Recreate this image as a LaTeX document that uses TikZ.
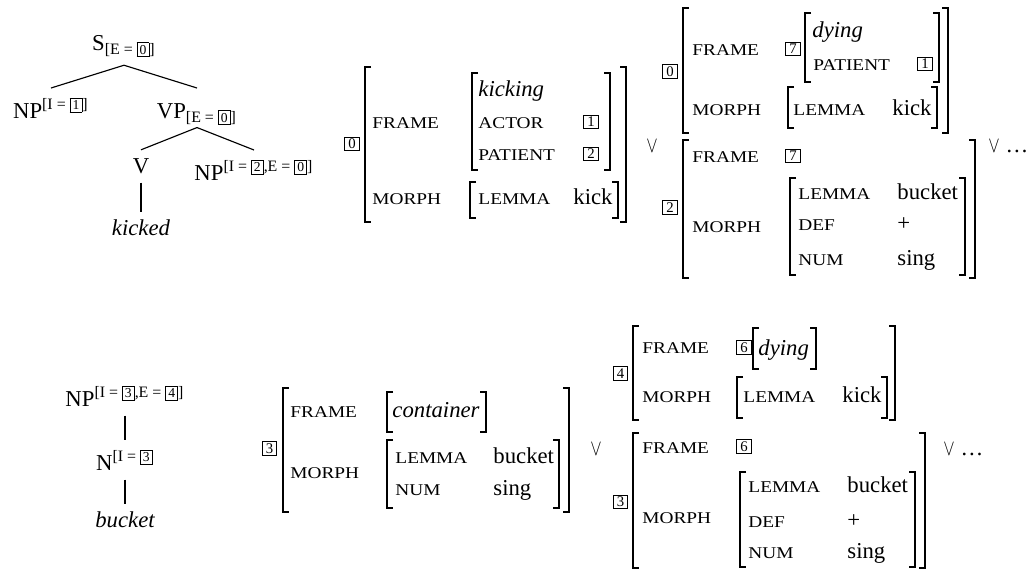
\documentclass[tikz,border=0pt]{standalone}
\usepackage{fontspec}
\setmainfont{Liberation Serif}

\newcommand{\bx}[1]{{\setlength{\fboxsep}{0.9pt}\setlength{\fboxrule}{0.4pt}\fbox{\fontsize{6}{6}\selectfont #1}}}
\newcommand{\fs}[1]{\scalebox{1}[0.85]{#1}}
\newcommand{\vsym}{\scalebox{0.75}[1]{$\vee$}}
% bracket pair: [style]{left x}{right x}{top y}{bottom y}
\newcommand{\brk}[5][brk]{%
  \draw[#1] (#2+6,#4) -- (#2,#4) -- (#2,#5) -- (#2+6,#5);
  \draw[#1] (#3-6,#4) -- (#3,#4) -- (#3,#5) -- (#3-6,#5);}

\tikzset{
  tnode/.style={inner sep=3pt, text height=10pt, text depth=1pt, anchor=base},
  branch/.style={line width=0.5pt},
  feat/.style={anchor=base west, inner sep=0pt, font=\fontsize{8.5}{10}\selectfont},
  val/.style={anchor=base west, inner sep=0pt},
  ital/.style={val, font=\itshape},
  tagbox/.style={draw, line width=0.4pt, inner sep=0pt, minimum width=6.4pt, minimum height=6pt, font=\fontsize{6.5}{7}\selectfont},
  brk/.style={line width=0.6pt},
  bigbrk/.style={line width=0.9pt},
  orsym/.style={anchor=base, inner sep=0pt}
}

\begin{document}
\begin{tikzpicture}[x=0.44pt, y=-0.44pt]
\useasboundingbox (0,0) rectangle (1035,573);

% tree: kicked
\node[tnode, text depth=3.5pt] (s) at (124,50) {S$_{\mbox{\scriptsize[E = \bx{0}]}}$};
\node[tnode] (np1) at (51,118) {NP$^{\mbox{\scriptsize[I = \bx{1}]}}$};
\node[tnode] (vp) at (197,118) {VP$_{\mbox{\scriptsize[E = \bx{0}]}}$};
\node[tnode, text height=7pt] (v) at (141,173) {V};
\node[tnode] (np2) at (254,180) {NP$^{\mbox{\scriptsize[I = \bx{2},E = \bx{0}]}}$};
\node[tnode, text height=7pt, font=\itshape] (kicked) at (141,235) {kicked};
\draw[branch] (s.south) -- (np1.north);
\draw[branch] (s.south) -- (vp.north);
\draw[branch] (vp.south) -- (v.north);
\draw[branch] (vp.south) -- (np2.north);
\draw[branch] (v.south) -- (kicked.north);

% tree: bucket
\node[tnode] (np3) at (125,406) {NP$^{\mbox{\scriptsize[I = \bx{3},E = \bx{4}]}}$};
\node[tnode] (n3) at (125,470) {N$^{\mbox{\scriptsize[I = \bx{3}}}$};
\node[tnode, text height=7pt, font=\itshape] (bucket) at (125,527) {bucket};
\draw[branch] (np3.south) -- (n3.north);
\draw[branch] (n3.south) -- (bucket.north);

% kicking
\node[tagbox] (kTag) at (352,144) {0};
\brk[bigbrk]{365}{626}{67}{222}
\node[feat] (kFrame) at (372,128) {\fs{FRAME}};
\brk{472}{610}{73}{170}
\node[ital] (kKicking) at (478,96) {kicking};
\node[feat] (kActor) at (478,128) {\fs{ACTOR}};
\node[tagbox] (kBoxA) at (591,122) {1};
\node[feat] (kPatient) at (478,160) {\fs{PATIENT}};
\node[tagbox] (kBoxB) at (591,154) {2};
\node[feat] (kMorph) at (372,204) {\fs{MORPH}};
\brk{470}{618}{182}{218}
\node[feat] (kLemma) at (478,204) {\fs{LEMMA}};
\node[val] (kKick) at (573,204) {kick};
\node[orsym] (orA) at (652,152) {\vsym};

% idiom, kick part
\node[tagbox] (iTag) at (670,71.5) {0};
\brk[bigbrk]{683}{948}{8}{133}
\node[feat] (iFrame) at (692,55) {\fs{FRAME}};
\node[tagbox] (iBox) at (793,49) {7};
\brk{805}{939}{13}{82}
\node[ital] (iDying) at (812,37) {dying};
\node[feat] (iPatient) at (813,70) {\fs{PATIENT}};
\node[tagbox] (iBoxA) at (925,64) {1};
\node[feat] (iMorph) at (692,115) {\fs{MORPH}};
\brk{788}{937}{87}{128}
\node[feat] (iLemma) at (793,115) {\fs{LEMMA}};
\node[val] (iKick) at (892,115) {kick};

% idiom, bucket part
\node[tagbox] (bTag) at (670,207.5) {2};
\brk[bigbrk]{683}{975}{140}{278}
\node[feat] (bFrame) at (692,162) {\fs{FRAME}};
\node[tagbox] (bBox) at (793,156) {7};
\node[feat] (bMorph) at (692,232) {\fs{MORPH}};
\brk{790}{965}{178}{275}
\node[feat] (bLemma) at (798,199) {\fs{LEMMA}};
\node[val] (bBucket) at (897,199) {bucket};
\node[feat] (bDef) at (798,230) {\fs{DEF}};
\node[val] (bPlus) at (897,230) {+};
\node[feat] (bNum) at (798,265) {\fs{NUM}};
\node[val] (bSing) at (897,265) {sing};
\node[val] (orB) at (988,152) {\vsym\ \dots};

% container
\node[tagbox] (cTag) at (269.5,448.5) {3};
\brk[bigbrk]{283}{569}{388}{512}
\node[feat] (cFrame) at (290,417) {\fs{FRAME}};
\brk{387}{486}{392}{432}
\node[ital] (cContainer) at (392,417) {container};
\node[feat] (cMorph) at (290,478) {\fs{MORPH}};
\brk{387}{559}{440}{508}
\node[feat] (cLemma) at (395,463) {\fs{LEMMA}};
\node[val] (cBucket) at (493,463) {bucket};
\node[feat] (cNum) at (395,495) {\fs{NUM}};
\node[val] (cSing) at (493,495) {sing};
\node[orsym] (orC) at (596,455) {\vsym};

% idiom again, lower
\node[tagbox] (jTag) at (620.5,373.5) {4};
\brk[bigbrk]{633}{895}{326}{420}
\node[feat] (jFrame) at (642,353) {\fs{FRAME}};
\node[tagbox] (jBox) at (744,347.5) {6};
\brk{753}{816}{328}{369}
\node[ital] (jDying) at (758,355) {dying};
\node[feat] (jMorph) at (642,402) {\fs{MORPH}};
\brk{737}{887}{377}{418}
\node[feat] (jLemma) at (743,402) {\fs{LEMMA}};
\node[val] (jKick) at (842,402) {kick};

\node[tagbox] (dTag) at (620.5,502) {3};
\brk[bigbrk]{633}{925}{433}{568}
\node[feat] (dFrame) at (642,453) {\fs{FRAME}};
\node[tagbox] (dBox) at (744,446.5) {6};
\node[feat] (dMorph) at (642,523) {\fs{MORPH}};
\brk{740}{915}{472}{567}
\node[feat] (dLemma) at (748,492) {\fs{LEMMA}};
\node[val] (dBucket) at (847,492) {bucket};
\node[feat] (dDef) at (748,527) {\fs{DEF}};
\node[val] (dPlus) at (847,527) {+};
\node[feat] (dNum) at (748,558) {\fs{NUM}};
\node[val] (dSing) at (847,558) {sing};
\node[val] (orD) at (943,455) {\vsym\ \dots};

\end{tikzpicture}
\end{document}
